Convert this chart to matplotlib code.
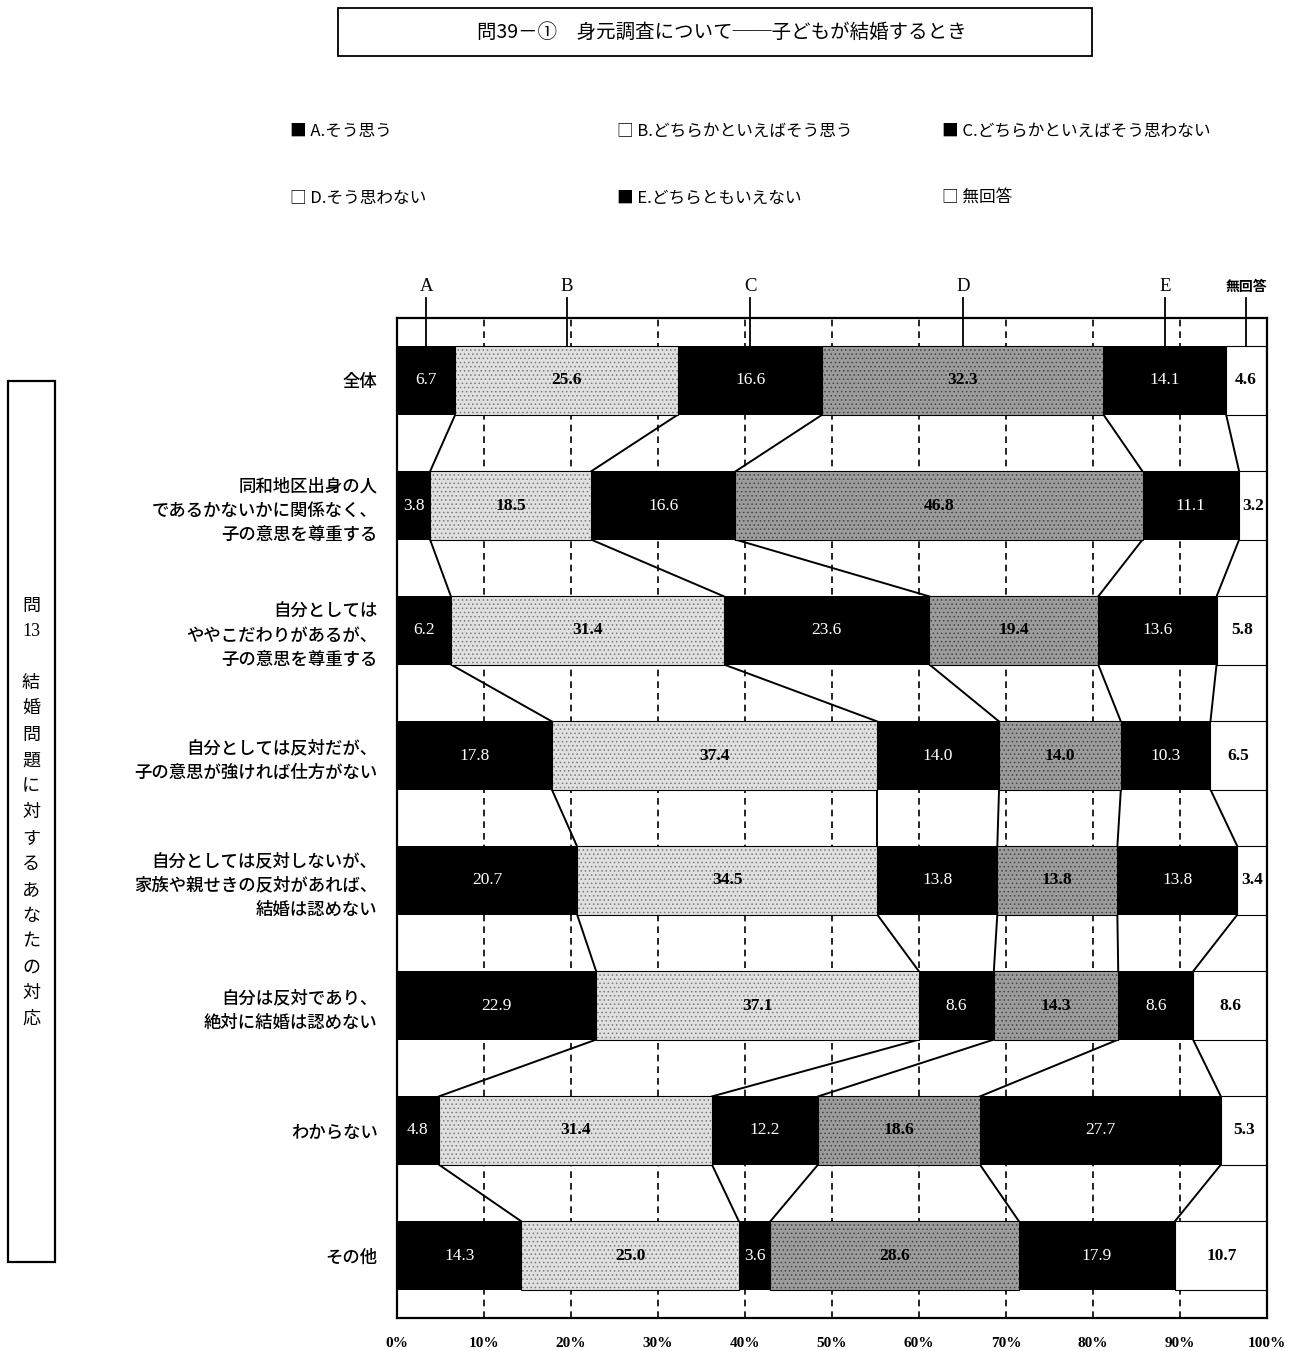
import matplotlib
matplotlib.use("Agg")
import matplotlib.pyplot as plt
from matplotlib.patches import Rectangle
import numpy as np

plt.rcParams["font.family"] = ["Noto Sans CJK JP", "DejaVu Sans"]
plt.rcParams["hatch.linewidth"] = 0.6

# データ
titulo = "問39－①　身元調査について──子どもが結婚するとき"
categorias = [
    "全体",
    "同和地区出身の人\nであるかないかに関係なく、\n子の意思を尊重する",
    "自分としては\nややこだわりがあるが、\n子の意思を尊重する",
    "自分としては反対だが、\n子の意思が強ければ仕方がない",
    "自分としては反対しないが、\n家族や親せきの反対があれば、\n結婚は認めない",
    "自分は反対であり、\n絶対に結婚は認めない",
    "わからない",
    "その他",
]
series_nomes = ["A", "B", "C", "D", "E", "無回答"]
legenda = ["A.そう思う", "B.どちらかといえばそう思う", "C.どちらかといえばそう思わない",
           "D.そう思わない", "E.どちらともいえない", "無回答"]
val_a = [6.7, 3.8, 6.2, 17.8, 20.7, 22.9, 4.8, 14.3]
val_b = [25.6, 18.5, 31.4, 37.4, 34.5, 37.1, 31.4, 25.0]
val_c = [16.6, 16.6, 23.6, 14.0, 13.8, 8.6, 12.2, 3.6]
val_d = [32.3, 46.8, 19.4, 14.0, 13.8, 14.3, 18.6, 28.6]
val_e = [14.1, 11.1, 13.6, 10.3, 13.8, 8.6, 27.7, 17.9]
val_na = [4.6, 3.2, 5.8, 6.5, 3.4, 8.6, 5.3, 10.7]
lado = "問13　結婚問題に対するあなたの対応"

valores = np.array([val_a, val_b, val_c, val_d, val_e, val_na])

# estilos
cores = ["black", "#e0e0e0", "black", "#9c9c9c", "black", "white"]
hatches = [None, "....", None, "....", None, None]
hatch_cor = ["black", "#7a7a7a", "black", "#444444", "black", "black"]
cor_texto = ["white", "black", "white", "black", "white", "black"]
peso_texto = ["normal", "bold", "normal", "bold", "normal", "bold"]
fonte_num = ["Liberation Serif", "Noto Sans CJK JP"]

fig = plt.figure(figsize=(13.01, 13.51), dpi=100)
ax = fig.add_axes([397 / 1301, 1 - 1318 / 1351, 870 / 1301, 1000 / 1351])

y = np.arange(len(categorias))
altura = 0.545
esquerda = np.zeros(len(categorias))
for i in range(len(series_nomes)):
    ax.barh(y, valores[i], left=esquerda, height=altura, color=cores[i],
            hatch=hatches[i], edgecolor=hatch_cor[i], linewidth=0, zorder=2)
    if i in (1, 3, 5):
        ax.barh(y, valores[i], left=esquerda, height=altura, fill=False,
                edgecolor="black", linewidth=0.8, zorder=3)
    for j in range(len(categorias)):
        ax.text(esquerda[j] + valores[i][j] / 2, y[j], f"{valores[i][j]:.1f}",
                ha="center", va="center", color=cor_texto[i], fontsize=12.5,
                fontweight=peso_texto[i], family=fonte_num, zorder=4)
    esquerda = esquerda + valores[i]

# linhas de ligação entre as barras
acum = np.cumsum(valores, axis=0)
for k in range(5):
    for j in range(len(categorias) - 1):
        ax.plot([acum[k][j], acum[k][j + 1]], [y[j] + altura / 2, y[j + 1] - altura / 2],
                color="black", linewidth=1.4, zorder=1)

# rótulos A..E no topo
for i, nome in enumerate(series_nomes):
    xc = acum[i][0] - valores[i][0] / 2
    ax.plot([xc, xc], [-0.66, -altura / 2], color="black", linewidth=1.3,
            clip_on=False, zorder=5)
    if nome == "無回答":
        ax.text(xc, -0.75, nome, ha="center", va="center", fontsize=10,
                fontweight="bold", clip_on=False)
    else:
        ax.text(xc, -0.75, nome, ha="center", va="center", fontsize=13.5,
                family=fonte_num, clip_on=False)

ax.set_xlim(0, 100)
ax.set_ylim(len(categorias) - 0.5, -0.5)
ax.set_xticks(np.arange(0, 101, 10))
ax.set_xticklabels([f"{v}%" for v in range(0, 101, 10)], fontsize=11,
                   fontweight="bold", family=fonte_num)
ax.set_yticks(y)
ax.set_yticklabels(categorias, fontsize=12.5, linespacing=1.45, fontweight="medium")
ax.tick_params(axis="both", length=0)
ax.tick_params(axis="x", pad=14)
ax.tick_params(axis="y", pad=14)
ax.xaxis.grid(True, color="black", linestyle=(0, (4, 3)), linewidth=1.2, zorder=0)
ax.set_axisbelow(True)
for s in ax.spines.values():
    s.set_linewidth(1.6)

# título em caixa
fig.patches.append(Rectangle((338 / 1301, 1 - 56 / 1351), 754 / 1301, 48 / 1351,
                             transform=fig.transFigure, fill=False,
                             edgecolor="black", linewidth=1.3))
fig.text(722 / 1301, 1 - 32 / 1351, titulo, ha="center", va="center", fontsize=14)

# legenda
pos_leg = [(290, 131), (617, 131), (942, 131), (290, 198), (617, 198), (942, 198)]
for i, (px, py) in enumerate(pos_leg):
    marca = "■" if cores[i] == "black" else "□"
    fig.text(px / 1301, 1 - py / 1351, f"{marca} {legenda[i]}", ha="left",
             va="center", fontsize=12)

# caixa lateral com texto vertical
fig.patches.append(Rectangle((8 / 1301, 1 - 1262 / 1351), 47 / 1301, 881 / 1351,
                             transform=fig.transFigure, fill=False,
                             edgecolor="black", linewidth=1.6))
partes = ["問", "13", ""] + list(lado.split("　")[1])
for k, ch in enumerate(partes):
    fig.text(31 / 1301, 1 - (606 + 25.8 * k) / 1351, ch, ha="center", va="center",
             fontsize=13, family=fonte_num if ch.isdigit() else None)

fig.savefig("out.png", dpi=100)
